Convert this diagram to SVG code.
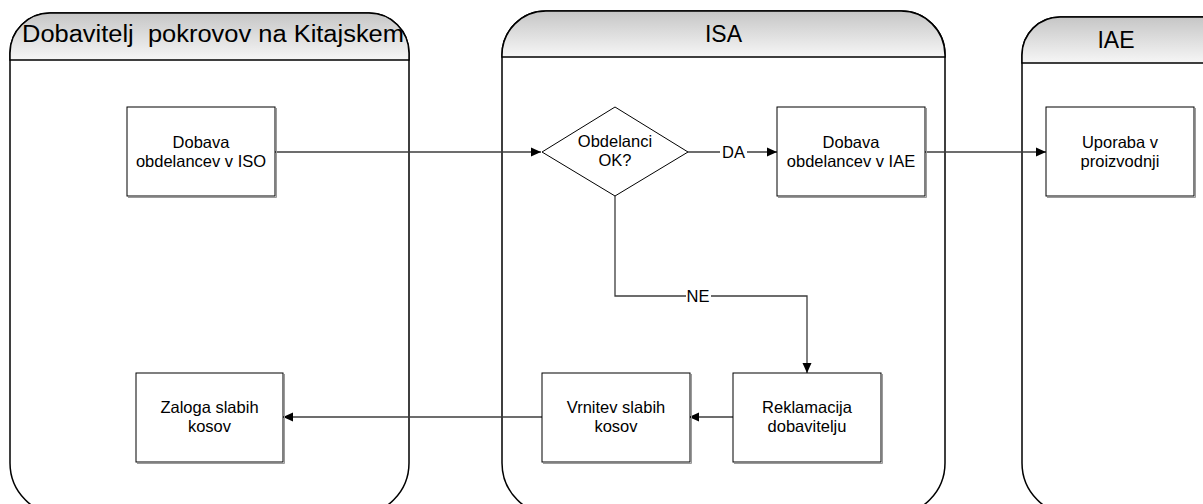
<svg xmlns="http://www.w3.org/2000/svg" width="1203" height="504" viewBox="0 0 1203 504">
  <defs>
    <linearGradient id="hdr" x1="0" y1="0" x2="0" y2="1">
      <stop offset="0" stop-color="#c6c6c6"/>
      <stop offset="1" stop-color="#f6f6f6"/>
    </linearGradient>
    <marker id="arr" markerUnits="userSpaceOnUse" markerWidth="11" markerHeight="10" refX="10" refY="5" orient="auto">
      <path d="M0,0.5 L10,5 L0,9.5 Z" fill="#000"/>
    </marker>
  </defs>
  <style>
    .lane { fill: #fff; stroke: #000; stroke-width: 1.5; }
    .head { fill: url(#hdr); stroke: #000; stroke-width: 1.5; }
    .title { font-family: "Liberation Sans", Arial, sans-serif; font-size: 23px; fill: #000; text-anchor: middle; white-space: pre; }
    .box { fill: #fff; stroke: #000; stroke-width: 1; }
    .shadow { fill: none; stroke: #9a9a9a; stroke-width: 1; }
    .lbl { font-family: "Liberation Sans", Arial, sans-serif; font-size: 16.5px; fill: #000; text-anchor: middle; }
    .conn { fill: none; stroke: #3c3c3c; stroke-width: 1.3; marker-end: url(#arr); }
    .clbl { font-family: "Liberation Sans", Arial, sans-serif; font-size: 16.5px; fill: #000; text-anchor: middle; }
  </style>

  <rect width="1203" height="504" fill="#fff"/>

  <!-- swimlanes: rounded top header, rounded bottom running off the page -->
  <g id="lane-dobavitelj">
    <path class="lane" d="M10,53 A40,40 0 0 1 50,13 H369 A40,40 0 0 1 409,53 V463 A52,52 0 0 1 357,515 H62 A52,52 0 0 1 10,463 Z"/>
    <path class="head" d="M10,60 V53 A40,40 0 0 1 50,13 H369 A40,40 0 0 1 409,53 V60 Z"/>
    <text class="title" x="213" y="42" textLength="382" lengthAdjust="spacingAndGlyphs" xml:space="preserve">Dobavitelj  pokrovov na Kitajskem</text>
  </g>
  <g id="lane-isa">
    <path class="lane" d="M502,55 A44,44 0 0 1 546,11 H901 A44,44 0 0 1 945,55 V463 A52,52 0 0 1 893,515 H554 A52,52 0 0 1 502,463 Z"/>
    <path class="head" d="M502,57 V55 A44,44 0 0 1 546,11 H901 A44,44 0 0 1 945,55 V57 Z"/>
    <text class="title" x="723.5" y="42">ISA</text>
  </g>
  <g id="lane-iae">
    <path class="lane" d="M1022,55 A38,38 0 0 1 1060,17 H1224 A38,38 0 0 1 1262,55 V463 A52,52 0 0 1 1210,515 H1074 A52,52 0 0 1 1022,463 Z"/>
    <path class="head" d="M1022,63 V55 A38,38 0 0 1 1060,17 H1224 A38,38 0 0 1 1262,55 V63 Z"/>
    <text class="title" x="1116" y="48">IAE</text>
  </g>

  <!-- connectors -->
  <g id="connectors">
    <path class="conn" d="M275,152 H541"/>
    <path class="conn" d="M688,152 H777"/>
    <path class="conn" d="M925,152 H1046"/>
    <path class="conn" d="M615,196 V296 H807 V373"/>
    <path class="conn" d="M733,417 H689"/>
    <path class="conn" d="M542,417 H283"/>
    <rect x="720" y="143" width="27" height="18" fill="#fff"/>
    <text class="clbl" x="733.5" y="158">DA</text>
    <rect x="686" y="287" width="25" height="18" fill="#fff"/>
    <text class="clbl" x="698" y="302">NE</text>
  </g>

  <!-- process nodes -->
  <g id="dobava-iso">
    <path class="shadow" d="M128,197.5 H276.5 V108"/>
    <rect class="box" x="127" y="107" width="148" height="89"/>
    <text class="lbl" x="201" y="148">Dobava</text>
    <text class="lbl" x="201" y="166.5">obdelancev v ISO</text>
  </g>
  <g id="obdelanci-ok">
    <polygon class="box" points="615,107 688,152 615,196 542,152"/>
    <text class="lbl" x="615" y="147">Obdelanci</text>
    <text class="lbl" x="615" y="166">OK?</text>
  </g>
  <g id="dobava-iae">
    <path class="shadow" d="M778,197.5 H926.5 V108"/>
    <rect class="box" x="777" y="107" width="148" height="89"/>
    <text class="lbl" x="851" y="148">Dobava</text>
    <text class="lbl" x="851" y="166.5">obdelancev v IAE</text>
  </g>
  <g id="uporaba">
    <path class="shadow" d="M1047,197.5 H1195.5 V108"/>
    <rect class="box" x="1046" y="107" width="148" height="89"/>
    <text class="lbl" x="1120" y="148">Uporaba v</text>
    <text class="lbl" x="1120" y="166.5">proizvodnji</text>
  </g>
  <g id="reklamacija">
    <path class="shadow" d="M734,463.5 H882.5 V374"/>
    <rect class="box" x="733" y="373" width="148" height="89"/>
    <text class="lbl" x="807" y="413">Reklamacija</text>
    <text class="lbl" x="807" y="432">dobavitelju</text>
  </g>
  <g id="vrnitev">
    <path class="shadow" d="M543,463.5 H691.5 V374"/>
    <rect class="box" x="542" y="373" width="148" height="89"/>
    <text class="lbl" x="616" y="413">Vrnitev slabih</text>
    <text class="lbl" x="616" y="432">kosov</text>
  </g>
  <g id="zaloga">
    <path class="shadow" d="M137,463.5 H284.5 V374"/>
    <rect class="box" x="136" y="373" width="147" height="89"/>
    <text class="lbl" x="209.5" y="413">Zaloga slabih</text>
    <text class="lbl" x="209.5" y="432">kosov</text>
  </g>
</svg>
